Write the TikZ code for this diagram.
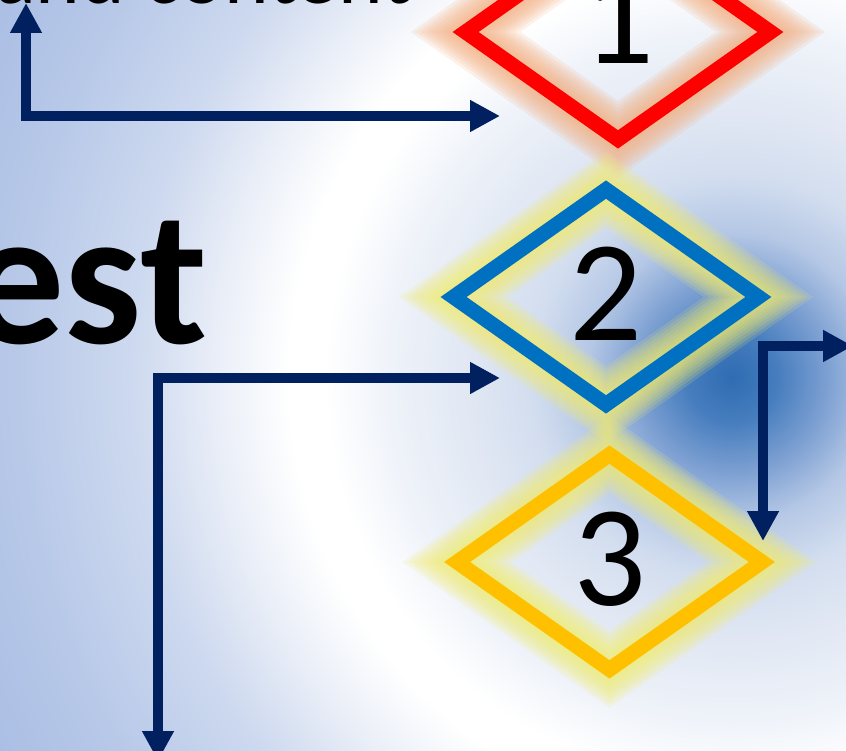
\documentclass[tikz,border=0pt]{standalone}
\usepackage{fontspec}
\setmainfont{Carlito}
\usetikzlibrary{arrows.meta,shapes.geometric}

\definecolor{navy}{HTML}{002060}
\definecolor{pptred}{HTML}{FF0000}
\definecolor{pptblue}{HTML}{0070C0}
\definecolor{pptgold}{HTML}{FFC000}
\definecolor{gloworange}{HTML}{F4AE7E}
\definecolor{glowyellow}{HTML}{F2EC70}

% background colours, from the blue spot outwards
\definecolor{bga}{RGB}{47,108,178}
\definecolor{bgb}{RGB}{70,125,190}
\definecolor{bgc}{RGB}{125,160,210}
\definecolor{bgd}{RGB}{180,199,229}
\definecolor{bge}{RGB}{210,221,239}
\definecolor{bgf}{RGB}{224,231,243}
\definecolor{bgg}{RGB}{238,242,249}
\definecolor{bgh}{RGB}{255,255,255}
\definecolor{bgi}{RGB}{232,237,247}
\definecolor{bgj}{RGB}{205,217,239}
\definecolor{bgk}{RGB}{183,200,232}
\definecolor{bgl}{RGB}{170,190,228}
\definecolor{bgm}{RGB}{166,186,226}

\pgfdeclareradialshading{slidebg}{\pgfpoint{0bp}{0bp}}{%
  color(0bp)=(bga); color(1.25bp)=(bgb); color(2.65bp)=(bgc);
  color(4bp)=(bgd); color(5.55bp)=(bge); color(7.2bp)=(bgf);
  color(9.45bp)=(bgg); color(11.3bp)=(bgh); color(12.3bp)=(bgh);
  color(14.45bp)=(bgi); color(16.65bp)=(bgj); color(20bp)=(bgk);
  color(23.05bp)=(bgl); color(25bp)=(bgm); color(50bp)=(bgm)}

\begin{document}
\begin{tikzpicture}[
    x=1pt, y=-1pt,
    glowing/.style={
      preaction={draw=#1, line width=63pt, draw opacity=.16},
      preaction={draw=#1, line width=57pt, draw opacity=.16},
      preaction={draw=#1, line width=51pt, draw opacity=.16},
      preaction={draw=#1, line width=45pt, draw opacity=.16},
      preaction={draw=#1, line width=39pt, draw opacity=.16},
      preaction={draw=#1, line width=33pt, draw opacity=.16},
      preaction={draw=#1, line width=27pt, draw opacity=.16},
      preaction={draw=#1, line width=21pt, draw opacity=.16}},
    decision/.style={diamond, draw=#1, line width=15pt, inner sep=0pt,
      minimum width=311pt, minimum height=221pt,
      font=\fontsize{144}{150}\selectfont},
    slidetext/.style={anchor=base west, inner sep=0pt, text=black},
    conn/.style={{Triangle[length=30pt,width=30pt]}-{Triangle[length=30pt,width=30pt]},
      line width=10pt, draw=navy}
]
\useasboundingbox (0,0) rectangle (846,751);
\clip (0,0) rectangle (846,751);

% Background
\shade[shading=slidebg] (732,377) circle[radius=900pt];

% Text of the slide
\node[slidetext, font=\fontsize{85}{90}\selectfont] (subtitle) at (-5,4) {and content};
\node[slidetext, font=\bfseries\fontsize{194}{200}\selectfont] (title) at (-33,343) {est};

% Decisions
\node[decision=pptred, glowing=gloworange, text depth=30pt] (one) at (618,32) {1};
\node[decision=pptblue, glowing=glowyellow, text depth=7pt] (two) at (606,297) {2};
\node[decision=pptgold, glowing=glowyellow, text depth=7pt] (three) at (609.5,562) {3};

% Connector ends
\coordinate (subend) at (26,3);
\coordinate (oneend) at (500,116);
\coordinate (titleend) at (158,761);
\coordinate (twoend) at (500,378);
\coordinate (rightend) at (853,346);
\coordinate (threeend) at (763,541);

% Connectors
\draw[conn] (subend) |- (oneend);
\draw[conn] (titleend) |- (twoend);
\draw[conn] (rightend) -| (threeend);

\end{tikzpicture}
\end{document}
